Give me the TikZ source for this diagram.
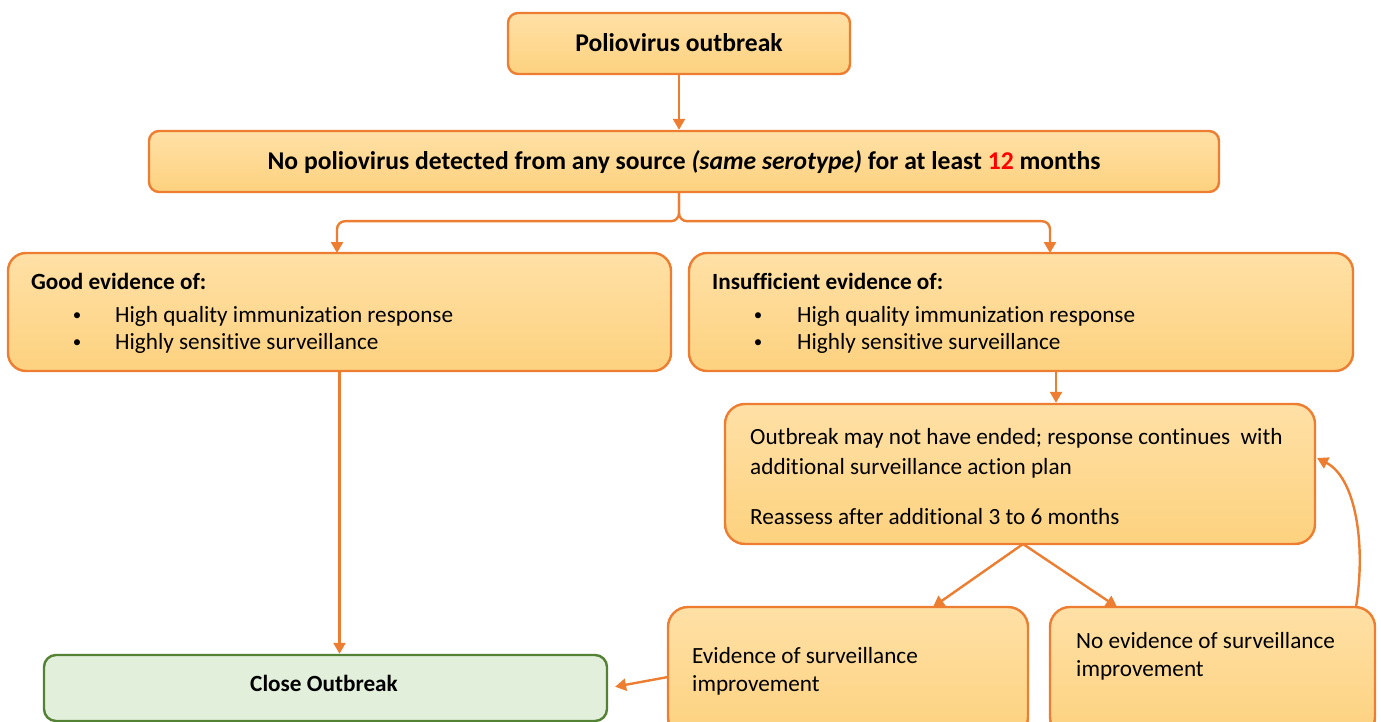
\documentclass[tikz,border=0pt]{standalone}
\usepackage{fontspec}
\setmainfont{Carlito}[Ligatures=NoCommon]
\usetikzlibrary{arrows.meta,calc}
\definecolor{ob}{HTML}{ED7D31}
\definecolor{ftop}{HTML}{FFE0A6}
\definecolor{fbot}{HTML}{FDD27F}
\definecolor{gfill}{HTML}{E2EFDA}
\definecolor{gline}{HTML}{548235}
\definecolor{red12}{HTML}{FF0000}
\tikzset{
  obox/.style={draw=ob, line width=2.4pt, top color=ftop, bottom color=fbot, rounded corners=#1, inner sep=0pt},
  gbox/.style={draw=gline, line width=2.4pt, fill=gfill, rounded corners=12pt, inner sep=0pt},
  arr/.style={draw=ob, line width=2.4pt, -{Triangle[length=11pt,width=12pt]}},
  txt/.style={anchor=base west, inner sep=0pt, font=\fontsize{23.2}{27}\selectfont},
  btxt/.style={txt, font=\fontsize{23.2}{27}\selectfont\bfseries},
  bigtxt/.style={anchor=base, inner sep=0pt, font=\fontsize{25.6}{30}\selectfont\bfseries},
  bul/.style={anchor=base, inner sep=0pt, font=\fontsize{17}{20}\selectfont},
}
\begin{document}
\begin{tikzpicture}[x=1pt,y=-1pt]
\useasboundingbox (0,0) rectangle (1381,722);
% boxes
\node[obox=10pt, minimum width=342pt, minimum height=61pt] (top) at (679,43.5) {};
\node[obox=10pt, minimum width=1070pt, minimum height=61pt] (sec) at (684,161.5) {};
\node[obox=18pt, minimum width=663pt, minimum height=118pt] (left) at (339.5,312) {};
\node[obox=18pt, minimum width=664pt, minimum height=118pt] (right) at (1021,312) {};
\node[obox=20pt, minimum width=590pt, minimum height=140pt] (outb) at (1020,474) {};
\node[obox=20pt, minimum width=360pt, minimum height=130pt] (ev) at (848,672) {};
\node[obox=20pt, minimum width=325pt, minimum height=130pt] (ne) at (1212.5,672) {};
\node[gbox, minimum width=563pt, minimum height=66pt] (close) at (325.5,688) {};
% texts
\node[bigtxt] (ttop) at (679,51.5) {Poliovirus outbreak};
\node[bigtxt] (tsec) at (684,169.5) {No poliovirus detected from any source \textit{(same serotype)} for at least \textcolor{red12}{12} months};
\node[btxt] (tl0) at (31,289) {Good evidence of:};
\node[bul] (tl1b) at (77,320) {\textbullet};
\node[txt] (tl1) at (115,322) {High quality immunization response};
\node[bul] (tl2b) at (77,347) {\textbullet};
\node[txt] (tl2) at (115,349) {Highly sensitive surveillance};
\node[btxt] (tr0) at (712,289) {Insufficient evidence of:};
\node[bul] (tr1b) at (758,320) {\textbullet};
\node[txt] (tr1) at (797,322) {High quality immunization response};
\node[bul] (tr2b) at (758,347) {\textbullet};
\node[txt] (tr2) at (797,349) {Highly sensitive surveillance};
\node[txt] (to1) at (750,444) {Outbreak may not have ended; response continues\ \ with};
\node[txt] (to2) at (750,474) {additional surveillance action plan};
\node[txt] (to3) at (750,524) {Reassess after additional 3 to 6 months};
\node[txt] (te1) at (692,663) {Evidence of surveillance};
\node[txt] (te2) at (692,691) {improvement};
\node[txt] (tn1) at (1076,648) {No evidence of surveillance};
\node[txt] (tn2) at (1076,676) {improvement};
\node[btxt, anchor=base] (tc) at (324,691) {Close Outbreak};
% connectors
\coordinate (lin) at (337,253);
\coordinate (rin) at (1050,253);
\draw[arr] (top.south) -- (top.south |- sec.north);
\draw[arr, rounded corners=8pt] (top.south |- sec.south) -- ++(0,28) -| (lin);
\draw[arr, rounded corners=8pt] (top.south |- sec.south) -- ++(0,28) -| (rin);
\draw[arr] (left.south) -- (left.south |- close.north);
\coordinate (rout) at (1056,371);
\draw[arr] (rout) -- (rout |- outb.north);
\coordinate (ob1) at (1023,544);
\coordinate (evin) at (933,607);
\coordinate (nein) at (1117,607);
\draw[arr] (ob1) -- (evin);
\draw[arr] (ob1) -- (nein);
\coordinate (evout) at (668,677);
\draw[arr, shorten >=7pt] (evout) -- (close.east);
\coordinate (neout) at (1356,607);
\coordinate (outbin) at (1317,458);
\draw[arr] (neout) .. controls (1366,545) and (1356,478) .. (outbin);
\end{tikzpicture}
\end{document}
